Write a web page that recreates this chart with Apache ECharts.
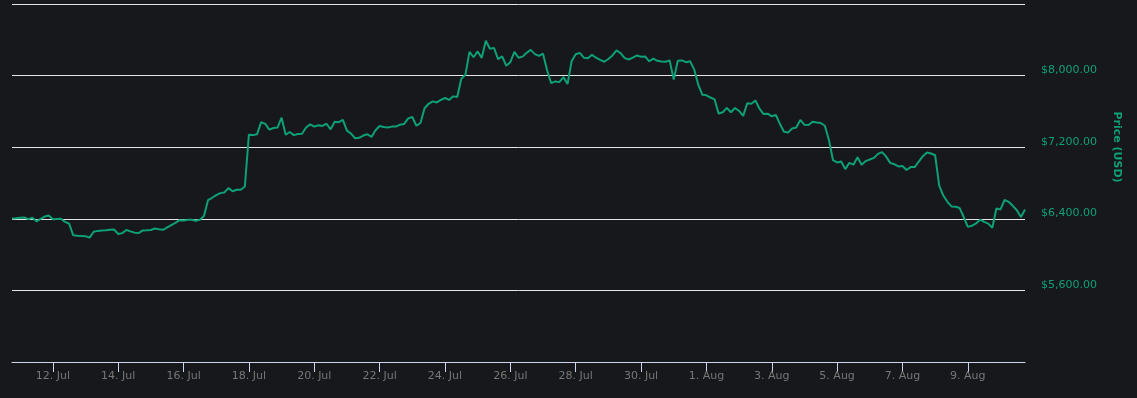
<!DOCTYPE html>
<html>
<head>
<meta charset="utf-8">
<script src="https://cdn.jsdelivr.net/npm/echarts@6/dist/echarts.min.js"></script>
<style>
html,body{margin:0;padding:0;background:#17181c;}
#chart{width:1137px;height:398px;}
</style>
</head>
<body>
<div id="chart"></div>
<script>
// Start of series: 10 Jul 2018 18:00, one value every 3 hours
const startYear = 2018, startMonth = 6, startDay = 10, startHour = 18;
const stepHours = 3;
const prices = [
6403,6407,6412,6415,6396,6412,6372,6400,6425,6437,
6395,6398,6400,6365,6345,6215,6210,6208,6205,6190,
6255,6265,6270,6272,6277,6280,6230,6240,6275,6260,
6245,6240,6270,6272,6275,6292,6283,6277,6305,6330,
6355,6385,6380,6388,6390,6378,6389,6430,6610,6635,
6665,6687,6695,6743,6708,6724,6724,6760,7340,7335,
7345,7480,7460,7396,7414,7420,7530,7340,7370,7335,
7348,7350,7420,7455,7430,7445,7437,7462,7400,7485,
7480,7505,7385,7352,7300,7305,7330,7345,7315,7390,
7437,7425,7420,7430,7430,7452,7460,7522,7537,7440,
7470,7635,7685,7712,7700,7728,7750,7728,7768,7760,
7965,8008,8265,8205,8270,8198,8390,8300,8310,8185,
8215,8110,8150,8265,8200,8212,8255,8287,8240,8220,
8245,8060,7915,7935,7927,7983,7905,8160,8238,8254,
8200,8195,8232,8200,8175,8155,8186,8225,8282,8250,
8195,8180,8200,8225,8211,8214,8160,8190,8165,8157,
8155,8170,7955,8165,8170,8150,8160,8070,7900,7787,
7780,7755,7735,7575,7590,7640,7590,7638,7605,7550,
7690,7685,7722,7630,7570,7575,7545,7560,7460,7372,
7365,7410,7420,7505,7450,7447,7485,7475,7470,7440,
7280,7055,7030,7040,6955,7025,7005,7088,7004,7045,
7062,7080,7125,7145,7095,7025,7010,6985,6990,6945,
6978,6978,7040,7100,7140,7130,7110,6770,6660,6590,
6538,6535,6520,6420,6310,6322,6348,6390,6365,6346,
6300,6515,6505,6610,6590,6545,6495,6420,6505
];
// x-axis ticks: every 2 days starting 12 Jul 2018
const firstTick = [2018, 6, 12];
const tickCount = 15;
const tickStepDays = 2;
const monthNames = ['Jan','Feb','Mar','Apr','May','Jun','Jul','Aug','Sep','Oct','Nov','Dec'];
// y-axis
const yMin = 4800, yMax = 8800, yStep = 800;

// x values are hours elapsed since the series start
const startDate = new Date(startYear, startMonth, startDay, startHour);
const seriesData = prices.map((p, i) => [i * stepHours, p]);
const tickHours = [];
for (let k = 0; k < tickCount; k++) {
  const d = new Date(firstTick[0], firstTick[1], firstTick[2] + k * tickStepDays);
  tickHours.push(Math.round((d.getTime() - startDate.getTime()) / 3600000));
}

const green = '#0ea077';
const chart = echarts.init(document.getElementById('chart'), null, {renderer: 'canvas'});
chart.setOption({
  backgroundColor: '#17181c',
  animation: false,
  grid: {left: 12, right: 112, top: 4, bottom: 36, containLabel: false},
  xAxis: {
    type: 'value',
    min: 0,
    max: (prices.length - 1) * stepHours,
    axisLine: {show: true, lineStyle: {color: '#ccd6eb', width: 1}},
    axisTick: {show: true, length: 10, lineStyle: {color: '#ccd6eb'}, customValues: tickHours},
    axisLabel: {
      show: true,
      customValues: tickHours,
      color: '#777777',
      fontFamily: 'DejaVu Sans',
      fontSize: 11,
      margin: 9,
      formatter: function (v) {
        const d = new Date(startDate.getTime() + v * 3600000);
        return d.getDate() + '. ' + monthNames[d.getMonth()];
      }
    },
    splitLine: {show: false}
  },
  yAxis: {
    type: 'value',
    position: 'right',
    min: yMin, max: yMax, interval: yStep,
    axisLine: {show: false},
    axisTick: {show: false},
    axisLabel: {
      color: green,
      fontFamily: 'DejaVu Sans',
      fontSize: 11,
      margin: 16,
      verticalAlign: 'bottom',
      padding: [0, 0, 0, 0],
      showMinLabel: false,
      showMaxLabel: false,
      formatter: function (v) {
        return '$' + v.toLocaleString('en-US', {minimumFractionDigits: 2, maximumFractionDigits: 2});
      }
    },
    splitLine: {show: true, lineStyle: {color: '#e6e6e6', width: 1}},
    name: 'Price (USD)',
    nameLocation: 'middle',
    nameRotate: -90,
    nameGap: 86,
    nameTextStyle: {color: green, fontFamily: 'DejaVu Sans', fontSize: 11, fontWeight: 'bold', padding: [0, 72, 0, 0]}
  },
  series: [{
    type: 'line',
    data: seriesData,
    showSymbol: false,
    symbol: 'none',
    lineStyle: {color: green, width: 2},
    z: 3
  }]
});
</script>
</body>
</html>
